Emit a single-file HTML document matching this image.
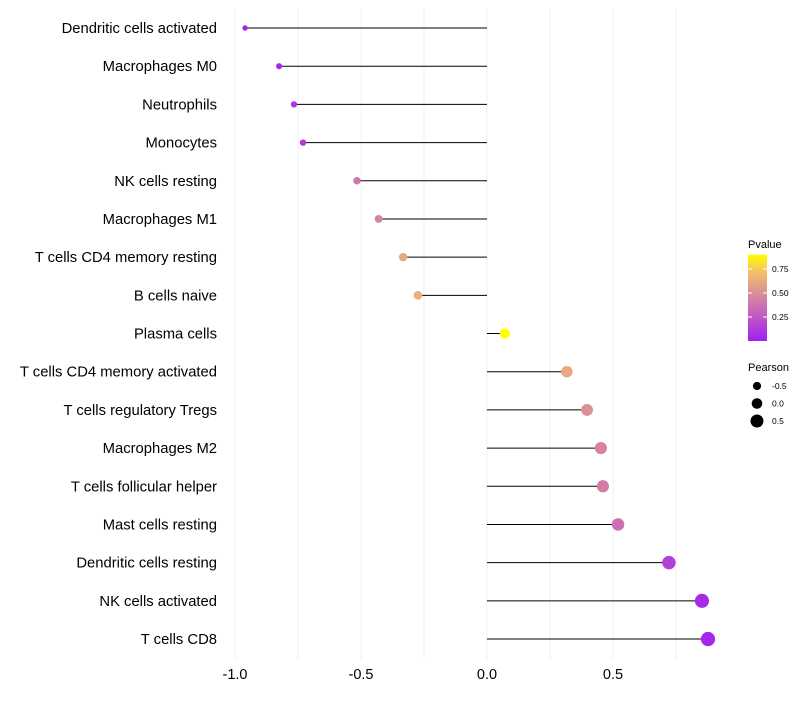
<!DOCTYPE html>
<html><head><meta charset="utf-8"><style>
body{margin:0;background:#fff;font-family:"Liberation Sans",sans-serif}
</style></head><body>
<svg id="c" width="800" height="700" xmlns="http://www.w3.org/2000/svg"></svg>
<script>
const categories=["Dendritic cells activated","Macrophages M0","Neutrophils","Monocytes","NK cells resting","Macrophages M1","T cells CD4 memory resting","B cells naive","Plasma cells","T cells CD4 memory activated","T cells regulatory  Tregs ","Macrophages M2","T cells follicular helper","Mast cells resting","Dendritic cells resting","NK cells activated","T cells CD8"];
const pearson=[-0.96,-0.825,-0.766,-0.73,-0.516,-0.43,-0.333,-0.274,0.071,0.317,0.397,0.452,0.46,0.52,0.722,0.853,0.877];
const pvalue=[0.02,0.05,0.1,0.12,0.4,0.45,0.62,0.66,0.9,0.62,0.5,0.45,0.42,0.36,0.15,0.05,0.03];
const xTicks=[-1.0,-0.5,0.0,0.5];
const pTicks=[0.25,0.5,0.75];
const sizeLegend=[-0.5,0.0,0.5];
const NS="http://www.w3.org/2000/svg",svg=document.getElementById('c');
const x=v=>487+252*v;
const y=i=>28+i*38.19;
const r=v=>5+2.4*v;
const stops=[[0,[160,32,240]],[0.45,[214,132,162]],[0.7,[240,186,112]],[0.9,[255,255,0]]];
function col(p){for(let k=1;k<stops.length;k++){if(p<=stops[k][0]||k==stops.length-1){const a=stops[k-1],b=stops[k];let t=(p-a[0])/(b[0]-a[0]);t=Math.max(0,Math.min(1,t));return 'rgb('+a[1].map((c,j)=>Math.round(c+(b[1][j]-c)*t)).join(',')+')';}}}
function el(t,a,txt){const e=document.createElementNS(NS,t);for(const k in a)e.setAttribute(k,a[k]);if(txt!==undefined)e.textContent=txt;svg.appendChild(e);return e;}
for(let v=-1;v<=0.76;v+=0.25){const g=el('line',{x1:x(v),x2:x(v),y1:8,y2:660,stroke:'#f2f2f2','stroke-width':1});

}
categories.forEach((c,i)=>{
const t=el('text',{x:217,y:y(i)+5,'text-anchor':'end','font-size':14.8,fill:'#000'},c);


const l=el('line',{x1:x(0),x2:x(pearson[i]),y1:y(i),y2:y(i),stroke:'#000','stroke-width':1});


const d=el('circle',{cx:x(pearson[i]),cy:y(i),r:r(pearson[i]),fill:col(pvalue[i])});


});
xTicks.forEach(v=>{const t=el('text',{x:x(v),y:679,'text-anchor':'middle','font-size':14.5,fill:'#000'},v.toFixed(1));

});
const defs=el('defs',{});const lg=document.createElementNS(NS,'linearGradient');lg.setAttribute('id','g');lg.setAttribute('x1',0);lg.setAttribute('x2',0);lg.setAttribute('y1',1);lg.setAttribute('y2',0);defs.appendChild(lg);
for(let k=0;k<=10;k++){const p=0.9*k/10;const s=document.createElementNS(NS,'stop');s.setAttribute('offset',k/10);s.setAttribute('stop-color',col(p));lg.appendChild(s);}
const py=p=>341-96*p;
let t=el('text',{x:748,y:248,'font-size':11},'Pvalue');
const bar=el('rect',{x:748,y:py(0.9),width:19,height:96*0.9,fill:'url(#g)'});
pTicks.forEach(p=>{el('line',{x1:748,x2:752,y1:py(p),y2:py(p),stroke:'#fff'});el('line',{x1:763,x2:767,y1:py(p),y2:py(p),stroke:'#fff'});
const tt=el('text',{x:772,y:py(p)+3,'font-size':8.5},p.toFixed(2));});
t=el('text',{x:748,y:371,'font-size':11},'Pearson');
sizeLegend.forEach((v,k)=>{const cy=386+k*17.5;el('circle',{cx:757,cy:cy,r:r(v)+0.3,fill:'#000'});
const tt=el('text',{x:772,y:cy+3,'font-size':8.5},v.toFixed(1));});
</script>
</body></html>
